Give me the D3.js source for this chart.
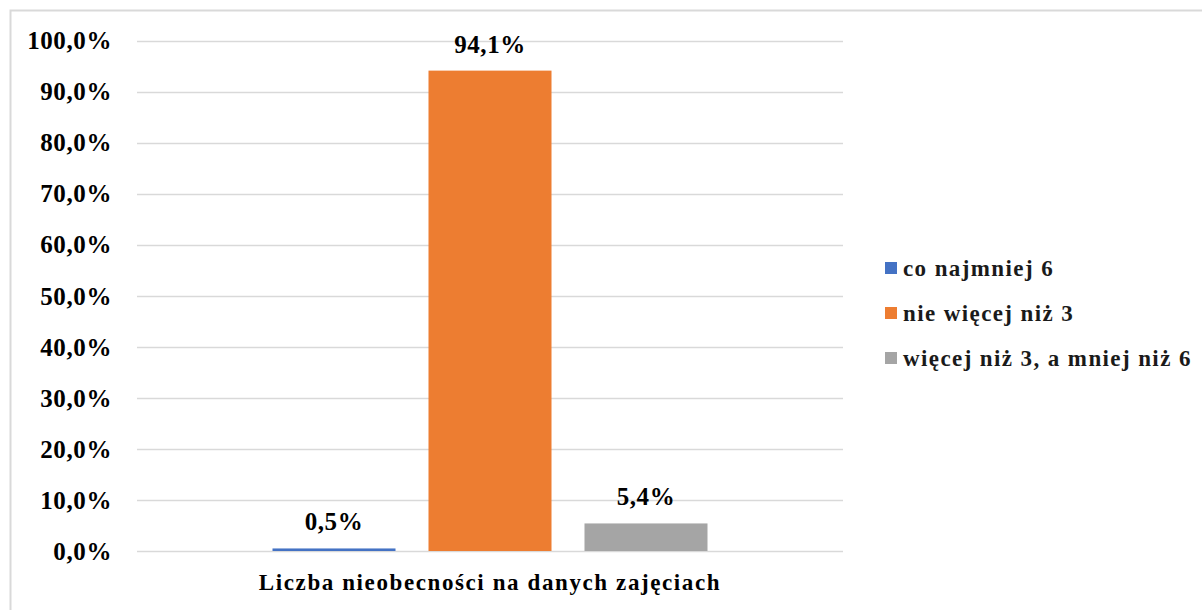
<!DOCTYPE html>
<html>
<head>
<meta charset="utf-8">
<script src="https://cdn.jsdelivr.net/npm/d3@7/dist/d3.min.js"></script>
<style>
  body { margin: 0; background: #fff; }
</style>
</head>
<body>
<div id="chart"></div>
<script>
var category = "Liczba nieobecności na danych zajęciach";
var series = ["co najmniej 6", "nie więcej niż 3", "więcej niż 3, a mniej niż 6"];
var values = [0.5, 94.1, 5.4];
var colors = ["#4472C4", "#ED7D31", "#A5A5A5"];
var yTicks = [0, 10, 20, 30, 40, 50, 60, 70, 80, 90, 100];

var svg = d3.select("#chart")
  .append("svg")
  .attr("width", 1202)
  .attr("height", 610);

var margin = {top: 40.5, right: 359, bottom: 59, left: 137},
    width = 1202 - margin.left - margin.right,
    height = 610 - margin.top - margin.bottom;

var fmt = function(v) { return d3.format(".1f")(v).replace(".", ",") + "%"; };

// outer frame
svg.append("rect")
  .attr("x", 10.5).attr("y", 10.5)
  .attr("width", 1300).attr("height", 700)
  .attr("fill", "none")
  .attr("stroke", "#d9d9d9")
  .attr("stroke-width", 2);

// scales in page coordinates
var y = d3.scaleLinear().domain([0, 100]).range([margin.top + height, margin.top]);
var x0 = d3.scaleBand().domain([category]).range([margin.left, margin.left + width]).paddingInner(0).paddingOuter(0.3115);
var x1 = d3.scaleBand().domain(series).range([x0(category), x0(category) + x0.bandwidth()]).paddingInner(0.2115);

// grid
svg.selectAll(".grid")
  .data(yTicks)
  .enter().append("line")
  .attr("class", "grid")
  .attr("x1", margin.left)
  .attr("x2", margin.left + width)
  .attr("y1", function(d) { return Math.round(y(d)) + 0.5; })
  .attr("y2", function(d) { return Math.round(y(d)) + 0.5; })
  .attr("stroke", "#d9d9d9")
  .attr("stroke-width", 1.5);

// y labels
svg.selectAll(".ytick")
  .data(yTicks)
  .enter().append("text")
  .attr("class", "ytick")
  .attr("x", margin.left - 25)
  .attr("y", function(d) { return y(d); })
  .attr("dy", "0.35em")
  .attr("text-anchor", "end")
  .style("font-family", "Liberation Serif")
  .style("font-weight", "bold")
  .style("font-size", "25px")
  .style("letter-spacing", "0.6px")
  .text(fmt);

// bars
svg.selectAll(".bar")
  .data(values)
  .enter().append("rect")
  .attr("class", "bar")
  .attr("x", function(d, i) { return x1(series[i]); })
  .attr("y", function(d) { return y(d); })
  .attr("width", x1.bandwidth())
  .attr("height", function(d) { return y(0) - y(d); })
  .attr("fill", function(d, i) { return colors[i]; });

// data labels
svg.selectAll(".lbl")
  .data(values)
  .enter().append("text")
  .attr("class", "lbl")
  .attr("x", function(d, i) { return x1(series[i]) + x1.bandwidth() / 2; })
  .attr("y", function(d) { return y(d) - 18; })
  .attr("text-anchor", "middle")
  .style("font-family", "Liberation Serif")
  .style("font-weight", "bold")
  .style("font-size", "25px")
  .style("letter-spacing", "0.6px")
  .text(fmt);

// category label
svg.append("text")
  .attr("x", x0(category) + x0.bandwidth() / 2)
  .attr("y", y(0) + 39)
  .attr("text-anchor", "middle")
  .style("font-family", "Liberation Serif")
  .style("font-weight", "bold")
  .style("font-size", "23px")
  .style("letter-spacing", "1.6px")
  .text(category);

// legend
svg.selectAll(".legsw")
  .data(series)
  .enter().append("rect")
  .attr("class", "legsw")
  .attr("x", 885)
  .attr("y", function(d, i) { return 262 + i * 45; })
  .attr("width", 12)
  .attr("height", 12)
  .style("fill", function(d, i) { return colors[i]; });

svg.selectAll(".legtx")
  .data(series)
  .enter().append("text")
  .attr("class", "legtx")
  .attr("x", 903)
  .attr("y", function(d, i) { return 268 + i * 45; })
  .attr("dy", "0.35em")
  .style("font-family", "Liberation Serif")
  .style("font-weight", "bold")
  .style("font-size", "23px")
  .style("letter-spacing", "1.4px")
  .style("fill", "#1a1a1a")
  .text(function(d) { return d; });
</script>
</body>
</html>
